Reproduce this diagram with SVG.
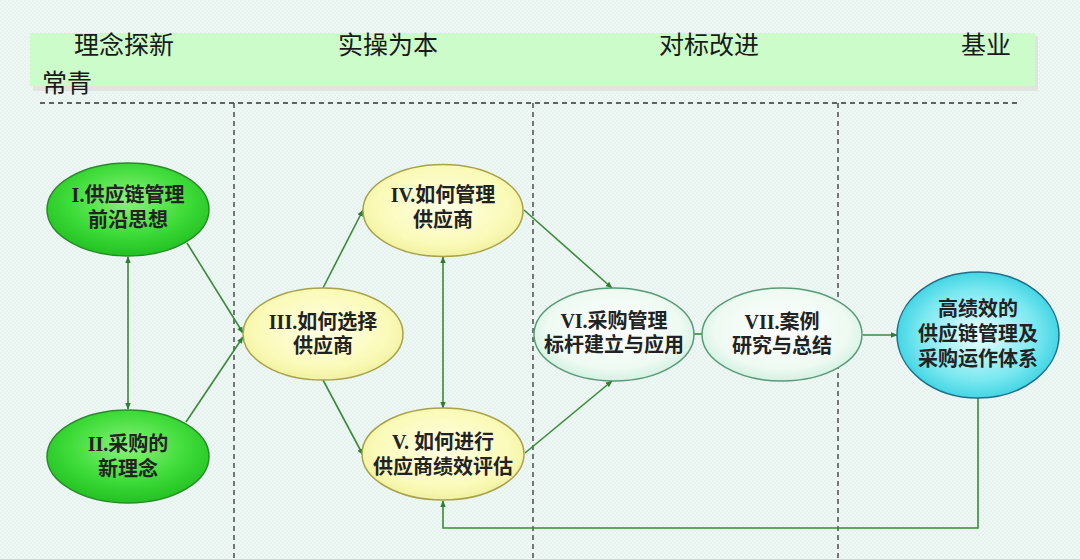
<svg xmlns="http://www.w3.org/2000/svg" width="1080" height="559" viewBox="0 0 1080 559">
<defs>
<pattern id="dots" width="4" height="4" patternUnits="userSpaceOnUse">
<rect width="4" height="4" fill="#eef8f5"/>
<circle cx="1" cy="1" r="0.7" fill="#dbe8e3"/>
<circle cx="3" cy="3" r="0.7" fill="#dbe8e3"/>
</pattern>
<radialGradient id="gGreen" cx="50%" cy="40%" r="60%">
<stop offset="0" stop-color="#8cf27c"/>
<stop offset="0.6" stop-color="#3fdc3a"/>
<stop offset="1" stop-color="#22c222"/>
</radialGradient>
<radialGradient id="gYellow" cx="50%" cy="45%" r="60%">
<stop offset="0" stop-color="#ffffe6"/>
<stop offset="0.7" stop-color="#fafab8"/>
<stop offset="1" stop-color="#eeee98"/>
</radialGradient>
<radialGradient id="gPale" cx="50%" cy="45%" r="60%">
<stop offset="0" stop-color="#ffffff"/>
<stop offset="0.7" stop-color="#eefaf2"/>
<stop offset="1" stop-color="#c8eedb"/>
</radialGradient>
<radialGradient id="gCyan" cx="50%" cy="50%" r="60%">
<stop offset="0" stop-color="#f0ffff"/>
<stop offset="0.6" stop-color="#7ae8f0"/>
<stop offset="1" stop-color="#1ec8dc"/>
</radialGradient>
<marker id="arr" viewBox="0 0 10 10" refX="9" refY="5" markerWidth="7" markerHeight="7" orient="auto-start-reverse" markerUnits="userSpaceOnUse">
<path d="M0,1 L10,5 L0,9 z" fill="#2e7d32"/>
</marker>
<style>
.hdr{font-family:"Noto Sans CJK SC","Noto Sans",sans-serif;font-size:25px;fill:#1a1a1a}
.nt{font-family:"Liberation Serif","Noto Sans CJK SC",serif;font-size:20px;font-weight:bold;fill:#222;text-anchor:middle}
.dash{stroke:#333;stroke-width:1.3;stroke-dasharray:5,4;fill:none}
.con{stroke:#3a8a3a;stroke-width:1.6;fill:none}
.arrow{marker-end:url(#arr)}
.both{marker-start:url(#arr);marker-end:url(#arr)}
</style>
</defs>
<rect width="1080" height="559" fill="url(#dots)"/>
<g id="banner">
<rect x="33" y="36" width="1005" height="55" fill="#e2e4e2"/>
<rect x="30" y="33" width="1005" height="53" fill="#ccfcca"/>
<text class="hdr" x="74" y="54">理念探新</text>
<text class="hdr" x="338" y="54">实操为本</text>
<text class="hdr" x="659" y="54">对标改进</text>
<text class="hdr" x="961" y="54">基业</text>
<text class="hdr" x="42" y="92">常青</text>
</g>
<g id="dividers">
<line class="dash" x1="40" y1="103" x2="1017" y2="103"/>
<line class="dash" x1="234" y1="103" x2="234" y2="559"/>
<line class="dash" x1="533" y1="103" x2="533" y2="559"/>
<line class="dash" x1="838" y1="103" x2="838" y2="559"/>
</g>
<g id="connectors">
<line class="con both" x1="128" y1="257" x2="128" y2="409"/>
<line class="con arrow" x1="187" y1="243" x2="243" y2="333"/>
<line class="con arrow" x1="186" y1="422" x2="243" y2="337"/>
<line class="con arrow" x1="323" y1="288" x2="363" y2="210"/>
<line class="con arrow" x1="323" y1="380" x2="363" y2="455"/>
<line class="con both" x1="443" y1="257" x2="443" y2="408"/>
<line class="con arrow" x1="524" y1="210" x2="612" y2="288"/>
<line class="con arrow" x1="525" y1="453" x2="612" y2="381"/>
<line class="con" x1="694" y1="334" x2="702" y2="334"/>
<line class="con arrow" x1="863" y1="335" x2="897" y2="335"/>
<polyline class="con arrow" points="978,398 978,528 443,528 443,501"/>
</g>
<g id="n1">
<ellipse cx="128" cy="209.5" rx="81" ry="46.5" fill="url(#gGreen)" stroke="#2a8a2a" stroke-width="1.5"/>
<text class="nt" x="128" y="202">I.供应链管理</text>
<text class="nt" x="128" y="227">前沿思想</text>
</g>
<g id="n2">
<ellipse cx="128" cy="456.5" rx="81" ry="46.5" fill="url(#gGreen)" stroke="#2a8a2a" stroke-width="1.5"/>
<text class="nt" x="128" y="451">II.采购的</text>
<text class="nt" x="128" y="476">新理念</text>
</g>
<g id="n3">
<ellipse cx="323" cy="334" rx="80" ry="46" fill="url(#gYellow)" stroke="#a8a24a" stroke-width="1.5"/>
<text class="nt" x="323" y="329">III.如何选择</text>
<text class="nt" x="323" y="353">供应商</text>
</g>
<g id="n4">
<ellipse cx="443" cy="210.5" rx="80" ry="46" fill="url(#gYellow)" stroke="#a8a24a" stroke-width="1.5"/>
<text class="nt" x="443" y="202">IV.如何管理</text>
<text class="nt" x="443" y="227">供应商</text>
</g>
<g id="n5">
<ellipse cx="443" cy="454" rx="81" ry="46" fill="url(#gYellow)" stroke="#a8a24a" stroke-width="1.5"/>
<text class="nt" x="443" y="449">V. 如何进行</text>
<text class="nt" x="443" y="474">供应商绩效评估</text>
</g>
<g id="n6">
<ellipse cx="614" cy="334.5" rx="80" ry="46.5" fill="url(#gPale)" stroke="#5a9a78" stroke-width="1.5"/>
<text class="nt" x="614" y="328">VI.采购管理</text>
<text class="nt" x="614" y="352">标杆建立与应用</text>
</g>
<g id="n7">
<ellipse cx="782" cy="334.5" rx="80" ry="46.5" fill="url(#gPale)" stroke="#5a9a78" stroke-width="1.5"/>
<text class="nt" x="782" y="329">VII.案例</text>
<text class="nt" x="782" y="353">研究与总结</text>
</g>
<g id="n8">
<ellipse cx="978" cy="335" rx="81" ry="63" fill="url(#gCyan)" stroke="#1f6f8a" stroke-width="1.5"/>
<text class="nt" x="978" y="316">高绩效的</text>
<text class="nt" x="978" y="341">供应链管理及</text>
<text class="nt" x="978" y="366">采购运作体系</text>
</g>
</svg>
